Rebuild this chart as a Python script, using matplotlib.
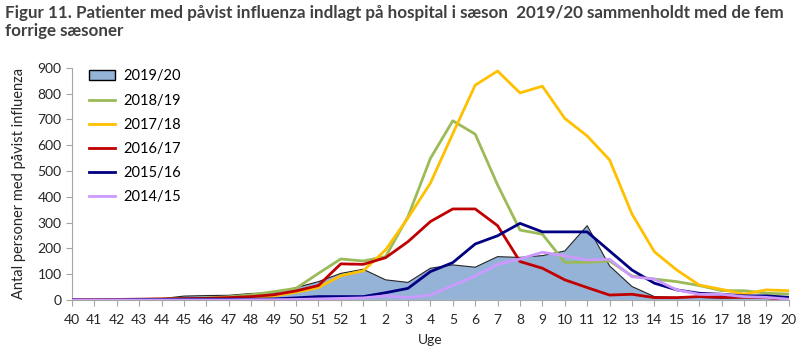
import matplotlib.pyplot as plt
import numpy as np

weeks = [str(w) for w in range(40, 53)] + [str(w) for w in range(1, 21)]

s1920 = [2, 2, 3, 3, 5, 15, 17, 18, 25, 28, 48, 71, 103, 119, 78, 68, 123, 136, 127,
         168, 165, 172, 190, 288, 132, 52, 13, 10, 10, 7, 10, 7, 7]
s1819 = [0, 1, 1, 2, 3, 5, 8, 12, 20, 32, 45, 103, 159, 151, 168, 323, 549, 695, 643,
         446, 271, 255, 146, 146, 151, 93, 81, 71, 56, 36, 36, 26, 23]
s1718 = [1, 2, 2, 2, 3, 4, 6, 8, 10, 15, 30, 48, 94, 113, 194, 318, 453, 645, 833,
         888, 803, 829, 704, 636, 543, 333, 187, 116, 58, 41, 23, 39, 36]
s1617 = [1, 1, 2, 3, 4, 5, 6, 9, 13, 20, 35, 56, 140, 138, 164, 226, 304, 353, 353,
         288, 149, 123, 78, 48, 19, 22, 9, 9, 13, 10, 10, 9, 0]
s1516 = [1, 0, 0, 2, 2, 3, 3, 3, 3, 4, 8, 13, 13, 13, 28, 45, 110, 145, 217,
         249, 297, 264, 264, 264, 190, 116, 65, 39, 26, 22, 16, 16, 10]
s1415 = [0, 0, 0, 0, 0, 0, 0, 0, 1, 1, 2, 4, 6, 8, 16, 9, 19, 56, 93,
         138, 159, 185, 171, 155, 158, 90, 81, 39, 22, 22, 13, 10, 3]

line_series = [
    ("2018/19", s1819, "#9BBB59"),
    ("2017/18", s1718, "#FFC000"),
    ("2016/17", s1617, "#C00000"),
    ("2015/16", s1516, "#000080"),
    ("2014/15", s1415, "#CC99FF"),
]

plt.rcParams['font.family'] = ['Lato', 'DejaVu Sans']

fig = plt.figure(figsize=(8, 3.5), dpi=100)
ax = fig.add_axes([0.09, 0.143, 0.896, 0.663])

x = np.arange(len(weeks))
ax.fill_between(x, s1920, color="#95B3D7", edgecolor="none", zorder=1)
ax.plot(x, s1920, color="#262626", lw=0.8, zorder=2)
area_handle = plt.Rectangle((0, 0), 1, 1, facecolor="#95B3D7", edgecolor="black", lw=1)

handles = [area_handle]
labels = ["2019/20"]
for name, vals, col in line_series:
    h, = ax.plot(x, vals, color=col, lw=2, zorder=3)
    handles.append(h)
    labels.append(name)

ax.set_xlim(0, len(weeks) - 1)
ax.set_ylim(0, 900)
ax.set_yticks(range(0, 901, 100))
ax.set_xticks(x)
ax.set_xticklabels(weeks)
ax.tick_params(axis="both", labelsize=10, colors="#A6A6A6", labelcolor="#262626", length=4)
ax.tick_params(axis="x", pad=6)

for side in ("top", "right"):
    ax.spines[side].set_visible(False)
for side in ("left", "bottom"):
    ax.spines[side].set_color("#A6A6A6")

ax.set_xlabel("Uge", fontsize=10, color="#262626", labelpad=6)
ax.set_ylabel("Antal personer med påvist influenza", fontsize=10.5, color="#262626", labelpad=8)

ax.legend(handles, labels, loc="upper left", bbox_to_anchor=(0.005, 1.05), frameon=False,
          fontsize=10.5, handlelength=1.8, labelspacing=0.7, handletextpad=0.6)

title = fig.text(0.006, 0.985,
                 "Figur 11. Patienter med påvist influenza indlagt på hospital i sæson  2019/20 sammenholdt med de fem\nforrige sæsoner",
                 ha="left", va="top", fontsize=13, fontweight="bold", color="#404040",
                 linespacing=1.15)

# shrink the title until it fits the width of the figure
fig.canvas.draw()
while title.get_window_extent().width > 782:
    title.set_fontsize(title.get_fontsize() - 0.05)
    fig.canvas.draw()

fig.savefig("out.png", dpi=100)
